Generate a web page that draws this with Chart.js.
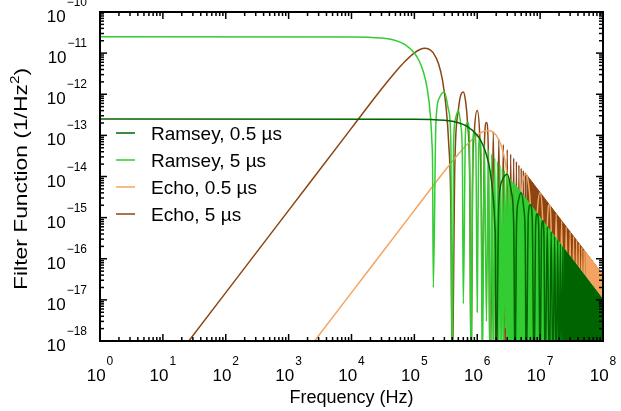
<!DOCTYPE html>
<html>
<head>
<meta charset="utf-8">
<script src="https://cdn.jsdelivr.net/npm/chart.js@4.4.0/dist/chart.umd.min.js"></script>
<style>
html, body { margin: 0; padding: 0; background: #fff; }
#wrap { width: 621px; height: 411px; }
</style>
</head>
<body>
<div id="wrap"><canvas id="chart" width="621" height="411"></canvas></div>
<script>
var seriesLabels = ["Ramsey, 0.5 \u00b5s", "Ramsey, 5 \u00b5s", "Echo, 0.5 \u00b5s", "Echo, 5 \u00b5s"];
var seriesColors = ["#006400", "#32cd32", "#f4a460", "#8b4513"];
var xExponents = [0, 1, 2, 3, 4, 5, 6, 7, 8];
var yExponents = [-18, -17, -16, -15, -14, -13, -12, -11, -10];

// Ramsey, 0.5 us
var ramseyShortFreq = [1, 1e5, 3e5, 5e5, 7e5, 1e6, 1.2e6, 1.4e6, 1.6e6, 1.8e6, 1.9e6, 1.95e6, 2e6,
    2.2e6, 2.5e6, 3e6, 3.5e6, 3.8e6, 4e6,
    4.2e6, 4.5e6, 5e6, 5.5e6, 5.8e6, 6e6,
    6.5e6, 7e6, 7.5e6, 8e6,
    8.5e6, 9e6, 9.5e6, 1e7,
    1.05e7, 1.1e7, 1.15e7, 1.2e7,
    1.3e7, 1.4e7, 1.5e7, 1.6e7, 1.7e7, 1.8e7, 1.9e7, 2e7, 2.1e7, 2.2e7, 2.3e7, 2.4e7];
var ramseyShortVal = [2.5e-13, 2.48e-13, 2.32e-13, 2.03e-13, 1.64e-13, 1.01e-13, 6.36e-14, 3.38e-14, 1.37e-14, 2.98e-15, 6.9e-16, 1.6e-16, 1e-19,
    2.0e-15, 8.1e-15, 1.13e-14, 4.1e-15, 6.7e-16, 1e-19,
    5.5e-16, 2.5e-15, 4.05e-15, 1.67e-15, 2.9e-16, 1e-19,
    1.2e-15, 2.07e-15, 9.0e-16, 1e-19,
    7.0e-16, 1.25e-15, 5.6e-16, 1e-19,
    4.6e-16, 8.4e-16, 3.8e-16, 1e-19,
    6.0e-16, 1e-19, 4.5e-16, 1e-19, 3.5e-16, 1e-19, 2.8e-16, 1e-19, 2.3e-16, 1e-19, 1.9e-16, 1e-19];
var ramseyShortDenseFreq = [2.4e7, 1e8];
var ramseyShortDenseVal = [1.76e-16, 1.01e-17];

// Ramsey, 5 us
var ramseyLongFreq = [1, 1e4, 3e4, 5e4, 7e4, 1e5, 1.2e5, 1.4e5, 1.6e5, 1.8e5, 1.9e5, 1.95e5, 2e5,
    2.2e5, 2.5e5, 3e5, 3.5e5, 3.8e5, 4e5,
    4.2e5, 4.5e5, 5e5, 5.5e5, 5.8e5, 6e5,
    6.5e5, 7e5, 7.5e5, 8e5,
    8.5e5, 9e5, 9.5e5, 1e6,
    1.05e6, 1.1e6, 1.15e6, 1.2e6,
    1.3e6, 1.4e6, 1.5e6, 1.6e6, 1.7e6, 1.8e6, 1.9e6, 2e6, 2.1e6, 2.2e6, 2.3e6, 2.4e6, 2.5e6, 2.6e6,
    2.7e6, 2.8e6, 2.9e6, 3e6, 3.1e6, 3.2e6, 3.3e6, 3.4e6, 3.5e6, 3.6e6, 3.7e6, 3.8e6, 3.9e6, 4e6];
var ramseyLongVal = [2.5e-11, 2.48e-11, 2.32e-11, 2.03e-11, 1.64e-11, 1.01e-11, 6.36e-12, 3.38e-12, 1.37e-12, 2.98e-13, 6.9e-14, 1.6e-14, 2e-17,
    2.0e-13, 8.1e-13, 1.13e-12, 4.1e-13, 6.7e-14, 1e-19,
    5.5e-14, 2.5e-13, 4.05e-13, 1.67e-13, 2.9e-14, 8e-18,
    1.2e-13, 2.07e-13, 9.0e-14, 1e-19,
    7.0e-14, 1.25e-13, 5.6e-14, 5e-18,
    4.6e-14, 8.4e-14, 3.8e-14, 1e-19,
    6.0e-14, 3e-18, 4.5e-14, 1e-19, 3.5e-14, 1e-19, 2.8e-14, 2e-18, 2.3e-14, 1e-19, 1.9e-14, 1e-19, 1.6e-14, 1e-19,
    1.4e-14, 2e-18, 1.2e-14, 1e-19, 1.05e-14, 1e-19, 9.3e-15, 1e-19, 8.3e-15, 1e-19, 7.4e-15, 1e-19, 6.7e-15, 1e-19];
var ramseyLongDenseFreq = [4e6, 1e8];
var ramseyLongDenseVal = [6.33e-15, 1.01e-17];

// Echo, 0.5 us
var echoShortFreq = [1, 1e3, 1e4, 1e5, 3e5, 5e5, 7e5, 1e6, 1.2e6, 1.5e6, 1.8e6, 2e6, 2.4e6, 2.8e6, 3.2e6, 3.5e6, 3.8e6, 4e6,
    4.4e6, 5e6, 5.5e6, 6e6, 6.5e6, 7e6, 7.6e6, 8e6,
    8.4e6, 9e6, 1e7, 1.1e7, 1.16e7, 1.2e7,
    1.3e7, 1.4e7, 1.5e7, 1.6e7,
    1.8e7, 2e7, 2.2e7, 2.4e7, 2.6e7, 2.8e7, 3e7, 3.2e7, 3.4e7, 3.6e7, 3.8e7, 4e7, 4.2e7, 4.4e7, 4.6e7, 4.8e7, 5e7, 5.2e7];
var echoShortVal = [1.5e-25, 1.5e-19, 1.5e-17, 1.5e-15, 1.34e-14, 3.48e-14, 6.16e-14, 1.01e-13, 1.21e-13, 1.31e-13, 1.19e-13, 1.01e-13, 5.76e-14, 2.21e-14, 4.7e-15, 7.1e-16, 1.7e-17, 1e-19,
    1.9e-16, 4.05e-15, 9.8e-15, 1.13e-14, 7.0e-15, 2.07e-15, 6.4e-17, 1e-19,
    5.2e-17, 1.25e-15, 4.05e-15, 8.4e-16, 2.7e-17, 1e-19,
    6.0e-16, 2.07e-15, 4.5e-16, 1e-19,
    1.25e-15, 1e-19, 8.4e-16, 1e-19, 6.0e-16, 1e-19, 4.5e-16, 1e-19, 3.5e-16, 1e-19, 2.8e-16, 1e-19, 2.3e-16, 1e-19, 1.9e-16, 1e-19, 1.6e-16, 1e-19];
var echoShortDenseFreq = [5.2e7, 1e8];
var echoShortDenseVal = [1.5e-16, 4.05e-17];

// Echo, 5 us
var echoLongFreq = [1, 10, 100, 1e3, 1e4, 3e4, 5e4, 7e4, 1e5, 1.2e5, 1.5e5, 1.8e5, 2e5, 2.4e5, 2.8e5, 3.2e5, 3.5e5, 3.8e5, 4e5,
    4.4e5, 5e5, 5.5e5, 6e5, 6.5e5, 7e5, 7.6e5, 8e5,
    8.4e5, 9e5, 1e6, 1.1e6, 1.16e6, 1.2e6,
    1.3e6, 1.4e6, 1.5e6, 1.6e6,
    1.8e6, 2e6, 2.2e6, 2.4e6, 2.6e6, 2.8e6, 3e6, 3.2e6, 3.4e6, 3.6e6, 3.8e6, 4e6, 4.2e6, 4.4e6, 4.6e6, 4.8e6, 5e6, 5.2e6, 5.4e6, 5.6e6, 5.8e6, 6e6];
var echoLongVal = [1.5e-21, 1.5e-19, 1.5e-17, 1.5e-15, 1.5e-13, 1.34e-12, 3.48e-12, 6.16e-12, 1.01e-11, 1.21e-11, 1.31e-11, 1.19e-11, 1.01e-11, 5.76e-12, 2.21e-12, 4.7e-13, 7.1e-14, 1.7e-15, 1e-19,
    1.9e-14, 4.05e-13, 9.8e-13, 1.13e-12, 7.0e-13, 2.07e-13, 6.4e-15, 1e-19,
    5.2e-15, 1.25e-13, 4.05e-13, 8.4e-14, 2.7e-15, 3e-18,
    6.0e-14, 2.07e-13, 4.5e-14, 1e-19,
    1.25e-13, 1e-19, 8.4e-14, 2e-18, 6.0e-14, 1e-19, 4.5e-14, 1e-19, 3.5e-14, 3e-18, 2.8e-14, 1e-19, 2.3e-14, 1e-19, 1.9e-14, 1e-19, 1.6e-14, 1e-19, 1.4e-14, 1e-19, 1.2e-14, 1e-19];
var echoLongDenseFreq = [6e6, 1e8];
var echoLongDenseVal = [1.13e-14, 4.05e-17];

var fontFamily = "'Liberation Sans', Arial, sans-serif";

function toPoints(freqs, vals) {
    return freqs.map(function (f, i) { return { x: f, y: vals[i] }; });
}

function curve(i, freqs, vals) {
    return {
        label: seriesLabels[i],
        data: toPoints(freqs, vals),
        borderColor: seriesColors[i],
        borderWidth: 1.5,
        borderJoinStyle: "round",
        cubicInterpolationMode: "monotone",
        pointRadius: 0,
        fill: false
    };
}

// the dense high-frequency tail, where the lobes merge into a solid band
function band(i, freqs, vals) {
    return {
        label: seriesLabels[i] + " band",
        data: toPoints(freqs, vals),
        borderColor: seriesColors[i],
        backgroundColor: seriesColors[i],
        borderWidth: 1,
        pointRadius: 0,
        fill: "start"
    };
}

function drawPower(ctx, exp, x, y, align) {
    var base = "10";
    var sup = (exp < 0 ? "\u2212" : "") + Math.abs(exp);
    ctx.font = "17px " + fontFamily;
    var bw = ctx.measureText(base).width;
    ctx.font = "12px " + fontFamily;
    var sw = ctx.measureText(sup).width;
    var left = align === "right" ? x - bw - 1 - sw : x - (bw + 1 + sw) / 2;
    ctx.textAlign = "left";
    ctx.textBaseline = "alphabetic";
    ctx.font = "17px " + fontFamily;
    ctx.fillText(base, left, y);
    ctx.font = "12px " + fontFamily;
    ctx.fillText(sup, left + bw + 1, y - 16);
}

function seg(ctx, x1, y1, x2, y2) {
    ctx.beginPath();
    ctx.moveTo(x1, y1);
    ctx.lineTo(x2, y2);
    ctx.stroke();
}

var framePlugin = {
    id: "frame",
    afterDraw: function (chart) {
        var ctx = chart.ctx;
        var xs = chart.scales.x, ys = chart.scales.y, a = chart.chartArea;
        ctx.save();
        ctx.strokeStyle = "#000";
        ctx.fillStyle = "#000";
        ctx.lineWidth = 1.5;

        // inward ticks on all four sides
        xExponents.forEach(function (e, k) {
            for (var d = 1; d <= 9; d++) {
                if (d > 1 && k === xExponents.length - 1) break;
                var px = xs.getPixelForValue(d * Math.pow(10, e));
                var len = d === 1 ? 7 : 4;
                seg(ctx, px, a.bottom, px, a.bottom - len);
                seg(ctx, px, a.top, px, a.top + len);
            }
        });
        yExponents.forEach(function (e, k) {
            for (var d = 1; d <= 9; d++) {
                if (d > 1 && k === yExponents.length - 1) break;
                var py = ys.getPixelForValue(d * Math.pow(10, e));
                var len = d === 1 ? 7 : 4;
                seg(ctx, a.left, py, a.left + len, py);
                seg(ctx, a.right, py, a.right - len, py);
            }
        });

        ctx.lineWidth = 2;
        ctx.strokeRect(a.left, a.top, a.right - a.left, a.bottom - a.top);

        xExponents.forEach(function (e) {
            drawPower(ctx, e, xs.getPixelForValue(Math.pow(10, e)), 381, "center");
        });
        yExponents.forEach(function (e) {
            drawPower(ctx, e, 87, ys.getPixelForValue(Math.pow(10, e)) + 10, "right");
        });

        // legend inside the plot
        ctx.font = "19px " + fontFamily;
        ctx.textAlign = "left";
        ctx.textBaseline = "alphabetic";
        seriesLabels.forEach(function (lab, i) {
            var ly = 133 + i * 27;
            ctx.strokeStyle = seriesColors[i];
            ctx.lineWidth = 1.5;
            seg(ctx, 116, ly, 135, ly);
            ctx.fillStyle = "#000";
            ctx.fillText(lab, 151, ly + 7);
        });

        // axis titles
        ctx.fillStyle = "#000";
        ctx.font = "18px " + fontFamily;
        ctx.textAlign = "center";
        ctx.fillText("Frequency (Hz)", (a.left + a.right) / 2, 403);

        // y title, stretched along its length like the reference
        ctx.save();
        ctx.translate(27, 179);
        ctx.rotate(-Math.PI / 2);
        var t1 = "Filter Function (1/Hz", t2 = "2", t3 = ")";
        ctx.font = "18px " + fontFamily;
        var w1 = ctx.measureText(t1).width, w3 = ctx.measureText(t3).width;
        ctx.font = "12px " + fontFamily;
        var w2 = ctx.measureText(t2).width;
        var total = w1 + w2 + w3;
        ctx.scale(222 / total, 1);
        var x0 = -total / 2;
        ctx.textAlign = "left";
        ctx.font = "18px " + fontFamily;
        ctx.fillText(t1, x0, 0);
        ctx.font = "12px " + fontFamily;
        ctx.fillText(t2, x0 + w1, -8);
        ctx.font = "18px " + fontFamily;
        ctx.fillText(t3, x0 + w1 + w2, 0);
        ctx.restore();

        ctx.restore();
    }
};

var ctx = document.getElementById("chart").getContext("2d");
var chart = new Chart(ctx, {
    type: "line",
    data: {
        datasets: [
            curve(0, ramseyShortFreq, ramseyShortVal),
            band(0, ramseyShortDenseFreq, ramseyShortDenseVal),
            curve(1, ramseyLongFreq, ramseyLongVal),
            band(1, ramseyLongDenseFreq, ramseyLongDenseVal),
            curve(2, echoShortFreq, echoShortVal),
            band(2, echoShortDenseFreq, echoShortDenseVal),
            curve(3, echoLongFreq, echoLongVal),
            band(3, echoLongDenseFreq, echoLongDenseVal)
        ]
    },
    options: {
        responsive: false,
        animation: false,
        devicePixelRatio: 1,
        layout: { padding: { left: 100, right: 18, top: 12, bottom: 70 } },
        scales: {
            x: { type: "logarithmic", min: 1, max: 1e8, display: false },
            y: { type: "logarithmic", min: 1e-18, max: 1e-10, display: false }
        },
        plugins: {
            legend: { display: false },
            tooltip: { enabled: false }
        }
    },
    plugins: [framePlugin]
});
</script>
</body>
</html>
